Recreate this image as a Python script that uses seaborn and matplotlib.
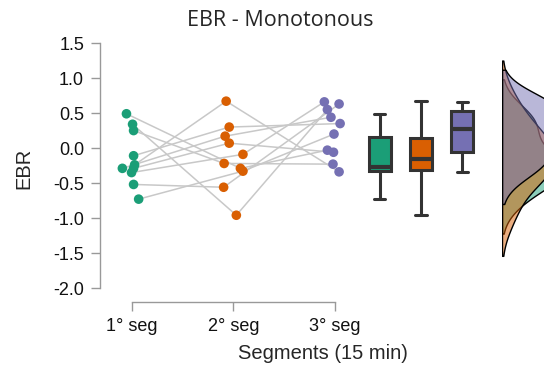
import numpy as np
import pandas as pd
import matplotlib
matplotlib.use("Agg")
import matplotlib.pyplot as plt
import seaborn as sns

# DATA
segments = ["1° seg", "2° seg", "3° seg"]
palette = ["#1b9e77", "#d95f02", "#7570b3"]

# EBR of the 10 subjects, same subject order in every segment
seg1 = [0.49, 0.34, 0.25, -0.11, -0.29, -0.24, -0.29, -0.35, -0.52, -0.73]
seg2 = [-0.29, -0.96, -0.22, 0.30, 0.17, 0.67, 0.07, -0.09, -0.56, -0.33]
seg3 = [-0.03, 0.55, -0.23, 0.35, 0.44, -0.34, -0.06, 0.66, 0.63, 0.20]

# horizontal jitter of the dots
jit1 = [-0.05, 0.01, 0.02, 0.02, -0.09, 0.03, 0.02, 0.0, 0.02, 0.07]
jit2 = [0.07, 0.03, -0.09, -0.04, -0.08, -0.07, -0.04, 0.095, -0.095, 0.095]
jit3 = [-0.075, -0.075, -0.02, 0.05, -0.04, 0.04, -0.015, -0.105, 0.04, -0.01]

# long form table
rows = []
for i, (vals, jit) in enumerate(zip([seg1, seg2, seg3], [jit1, jit2, jit3])):
    for subj, (v, j) in enumerate(zip(vals, jit)):
        rows.append({"seg": segments[i], "idx": i, "subject": subj,
                     "EBR": v, "xj": i + j, "bpos": 2.44 + 0.405 * i})
df = pd.DataFrame(rows)

sns.set_style("white")
plt.rcParams["font.family"] = ["Liberation Sans", "DejaVu Sans"]
plt.rcParams["axes.unicode_minus"] = False

fig = plt.figure(figsize=(5.44, 3.70), dpi=100)
ax = fig.add_axes([100 / 544, 68 / 370, 444 / 544, 268 / 370])

# subject lines + dots
sns.lineplot(data=df, x="xj", y="EBR", units="subject", estimator=None,
             color="#c8c8c8", linewidth=1.1, sort=False, ax=ax, zorder=1)
sns.scatterplot(data=df, x="xj", y="EBR", hue="seg", palette=palette, s=48,
                edgecolor="none", legend=False, ax=ax, zorder=3)

# boxes
sns.boxplot(data=df, x="bpos", y="EBR", hue="seg", palette=palette,
            native_scale=True, width=0.54, dodge=False, saturation=1,
            linecolor="#333333", linewidth=2.2, showfliers=False,
            medianprops={"linewidth": 3}, legend=False, ax=ax)

ax.set_xlim(-0.31, 4.054)
ax.set_ylim(-2.2, 1.63)
ax.set_xticks([0, 1, 2])
ax.set_xticklabels(segments)
ax.set_yticks(np.arange(-2.0, 1.51, 0.5))
ax.set_yticklabels([f"{t:.1f}" for t in np.arange(-2.0, 1.51, 0.5)])
for s in ["top", "right"]:
    ax.spines[s].set_visible(False)
ax.spines["left"].set_bounds(-2.0, 1.5)
ax.spines["bottom"].set_bounds(0, 2)
for s in ["left", "bottom"]:
    ax.spines[s].set_color("#999999")
    ax.spines[s].set_linewidth(1)
ax.tick_params(length=6.5, width=1, color="#999999", labelsize=13, pad=5,
               labelcolor="#111111", left=True, bottom=True)
ax.set_xlabel("Segments (15 min)", fontsize=14.5)
ax.set_ylabel("EBR", fontsize=14.5)
ax.xaxis.set_label_coords(0.502, -0.155)
ax.yaxis.set_label_coords(-0.151, 0.5)

# clouds (half violins) on their own axes to the right
ax2 = fig.add_axes([502 / 544, 68 / 370, 0.2, 268 / 370], sharey=ax)
for vals, c in zip([seg1, seg2, seg3], palette):
    sns.kdeplot(y=vals, fill=True, color=c, alpha=0.5, cut=2,
                edgecolor="black", linewidth=1, ax=ax2)
ax2.set_xlim(0, 1.6)
ax2.axis("off")

fig.text(280 / 544, 1 - 20 / 370, "EBR - Monotonous", ha="center",
         va="center", fontsize=15.5, family=["Open Sans", "DejaVu Sans"])

fig.savefig("out.png", dpi=100)
